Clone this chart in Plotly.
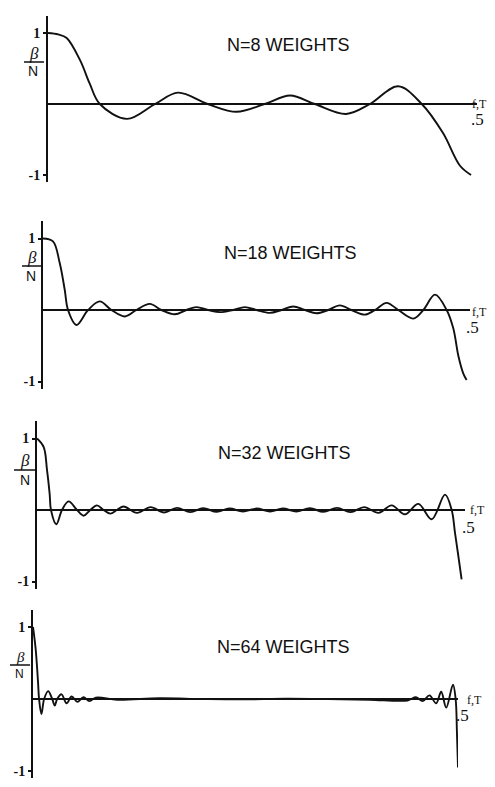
import plotly.graph_objects as go

# The page keeps its default 8px body margin: the figure starts 8px in from the top-left corner.
PAGE_W, PAGE_H = 495, 787
OFF = 8
WF, HF = PAGE_W - OFF, PAGE_H - OFF

# ---------------- data ----------------
titles = ["N=8 WEIGHTS", "N=18 WEIGHTS", "N=32 WEIGHTS", "N=64 WEIGHTS"]

x_n8 = [0, 0.012, 0.022, 0.038, 0.049, 0.061, 0.093, 0.126, 0.153, 0.188, 0.222,
        0.255, 0.285, 0.314, 0.351, 0.379, 0.412, 0.440, 0.465, 0.485, 0.498]
y_n8 = [1.0, 0.98, 0.93, 0.61, 0.29, 0.0, -0.21, 0.0, 0.16, 0.0, -0.11,
        0.0, 0.12, 0.0, -0.14, 0.0, 0.25, 0.0, -0.41, -0.87, -1.0]

x_n18 = [0, 0.0118, 0.0197, 0.0256, 0.0296, 0.0395, 0.0533, 0.0671, 0.0809, 0.0967,
         0.1105, 0.1263, 0.1401, 0.1558, 0.1696, 0.1815, 0.1953, 0.2091, 0.2249, 0.2387,
         0.2525, 0.2683, 0.2821, 0.2959, 0.3097, 0.3235, 0.3373, 0.3511, 0.3649, 0.3807,
         0.3926, 0.4064, 0.4202, 0.4379, 0.4498, 0.4636, 0.4774, 0.4853, 0.4912, 0.4971,
         0.5010]
y_n18 = [1.0, 0.96, 0.66, 0.29, 0.0, -0.21, 0.0, 0.12, 0.0, -0.09,
         0.0, 0.085, 0.0, -0.06, 0.0, 0.04, 0.0, -0.03, 0.0, 0.04,
         0.0, -0.04, 0.0, 0.05, 0.0, -0.045, 0.0, 0.065, 0.0, -0.065,
         0.0, 0.10, 0.0, -0.12, 0.0, 0.215, 0.0, -0.26, -0.64, -0.89,
         -0.98]

x_n32 = [0, 0.0079, 0.0118, 0.0149, 0.0165, 0.0228, 0.0295, 0.0373, 0.0472, 0.0550,
         0.0629, 0.0707, 0.0786, 0.0865, 0.0943, 0.1022, 0.118, 0.134, 0.150, 0.165,
         0.181, 0.196, 0.212, 0.227, 0.243, 0.259, 0.275, 0.290, 0.306, 0.322,
         0.338, 0.354, 0.370, 0.386, 0.403, 0.4185, 0.434, 0.450, 0.4657, 0.4814,
         0.4893, 0.4932, 0.4971, 0.501]
y_n32 = [1.0, 0.88, 0.56, 0.23, 0.0, -0.20, 0.0, 0.12, 0.0, -0.08,
         0.0, 0.065, 0.0, -0.05, 0.0, 0.05, -0.04, 0.04, -0.035, 0.03,
         -0.03, 0.025, -0.025, 0.02, -0.02, 0.02, -0.02, 0.02, -0.02, 0.025,
         -0.025, 0.03, -0.03, 0.04, -0.04, 0.065, -0.06, 0.085, -0.13, 0.215,
         0.0, -0.32, -0.64, -0.97]

x_n64 = [0, 0.0032, 0.0060, 0.0072, 0.0100, 0.0132, 0.0180, 0.0228, 0.0259, 0.0287,
         0.0339, 0.0399, 0.0459, 0.0527, 0.0599, 0.0671, 0.0747, 0.10, 0.15, 0.20,
         0.25, 0.30, 0.35, 0.40, 0.4451, 0.4551, 0.4631, 0.4711, 0.4790, 0.4850,
         0.4910, 0.4990, 0.5022, 0.5038, 0.505]
y_n64 = [1.0, 0.69, 0.23, 0.0, -0.21, 0.0, 0.11, 0.0, -0.09, 0.0,
         0.065, -0.06, 0.035, -0.04, 0.025, -0.03, 0.02, -0.01, 0.01, 0.0,
         -0.005, 0.005, 0.0, -0.01, -0.02, 0.025, -0.03, 0.05, -0.06, 0.10,
         -0.12, 0.20, 0.0, -0.49, -0.95]

y_tick_values = [-1, 1]
y_tick_labels = ["-1", "1"]
x_end_label = ".5"
x_axis_label = "f,T"
y_label_num = "β"
y_label_den = "N"

series = [(x_n8, y_n8), (x_n18, y_n18), (x_n32, y_n32), (x_n64, y_n64)]

# ---------------- layout geometry (page pixels) ----------------
YMIN, YMAX = -1.1, 1.24
XMAX = 0.505
panels = [
    dict(left=48, right=477, zero=104, scale=71.0, title=(288, 45), half=(477, 120), ft=(479, 104),
         beta=(34, 53), frac=(24, 44, 62), den=(33, 71), bsize=17, nsize=14),
    dict(left=43, right=470, zero=310, scale=71.5, title=(290, 253), half=(472, 327), ft=(479, 312),
         beta=(32, 257), frac=(22, 42, 266), den=(31, 276), bsize=17, nsize=14),
    dict(left=37, right=465, zero=510, scale=71.5, title=(284, 453), half=(468, 527), ft=(477, 510),
         beta=(25, 461), frac=(14, 35, 470), den=(25, 480), bsize=17, nsize=14),
    dict(left=33, right=458, zero=699, scale=72.0, title=(283, 647), half=(462, 715), ft=(474, 700),
         beta=(20, 657), frac=(10, 30, 665), den=(19, 674), bsize=15, nsize=12),
]


def px(x):
    return (x - OFF) / WF


def py(y):
    return 1 - (y - OFF) / HF


fig = go.Figure()
annotations = []
shapes = []
INK = "#111111"

for i, ((xs, ys), p, ttl) in enumerate(zip(series, panels, titles)):
    k = "" if i == 0 else str(i + 1)
    fig.add_trace(go.Scatter(
        x=xs, y=ys, mode="lines",
        line=dict(color=INK, width=1.9, shape="spline", smoothing=1.0),
        xaxis="x" + k, yaxis="y" + k, showlegend=False, hoverinfo="skip"))

    top_px = p["zero"] - YMAX * p["scale"]
    bot_px = p["zero"] - YMIN * p["scale"]
    fig.layout["xaxis" + k] = dict(
        domain=[px(p["left"]), px(p["right"])], range=[0, XMAX],
        anchor="y" + k, showline=False, showgrid=False, zeroline=False,
        showticklabels=False, ticks="", automargin=False, fixedrange=True)
    fig.layout["yaxis" + k] = dict(
        domain=[max(0.0, py(bot_px)), min(1.0, py(top_px))], range=[YMIN, YMAX],
        anchor="x" + k, showline=True, linecolor=INK, linewidth=2,
        showgrid=False, zeroline=True, zerolinecolor=INK, zerolinewidth=1.6,
        tickvals=y_tick_values, ticktext=y_tick_labels, ticks="outside",
        ticklen=3, tickwidth=1.5, tickcolor=INK, ticklabeloverflow="allow",
        tickfont=dict(family="Liberation Serif", size=14, color=INK, weight="bold"),
        automargin=False, fixedrange=True)

    annotations.append(dict(text=ttl, x=px(p["title"][0]), y=py(p["title"][1]),
                            xref="paper", yref="paper", showarrow=False,
                            xanchor="center", yanchor="middle",
                            font=dict(family="Liberation Sans", size=18, color=INK)))
    annotations.append(dict(text=x_end_label, x=px(p["half"][0]), y=py(p["half"][1]),
                            xref="paper", yref="paper", showarrow=False,
                            xanchor="center", yanchor="middle",
                            font=dict(family="Liberation Serif", size=17, color=INK)))
    annotations.append(dict(text=x_axis_label, x=px(p["ft"][0]), y=py(p["ft"][1]),
                            xref="paper", yref="paper", showarrow=False,
                            xanchor="center", yanchor="middle", borderpad=0,
                            font=dict(family="Liberation Serif", size=12, color=INK)))
    annotations.append(dict(text="<i>" + y_label_num + "</i>", x=px(p["beta"][0]), y=py(p["beta"][1]),
                            xref="paper", yref="paper", showarrow=False,
                            xanchor="center", yanchor="middle", borderpad=0,
                            font=dict(family="Liberation Serif", size=p["bsize"], color=INK)))
    annotations.append(dict(text=y_label_den, x=px(p["den"][0]), y=py(p["den"][1]),
                            xref="paper", yref="paper", showarrow=False,
                            xanchor="center", yanchor="middle", borderpad=0,
                            font=dict(family="Liberation Sans", size=p["nsize"], color=INK)))
    shapes.append(dict(type="line", xref="paper", yref="paper",
                       x0=px(p["frac"][0]), x1=px(p["frac"][1]),
                       y0=py(p["frac"][2]), y1=py(p["frac"][2]),
                       line=dict(color=INK, width=1.5)))

fig.update_layout(
    width=WF, height=HF, margin=dict(l=0, r=0, t=0, b=0),
    paper_bgcolor="white", plot_bgcolor="white",
    annotations=annotations, shapes=shapes, showlegend=False)

fig.write_html("out.html")
